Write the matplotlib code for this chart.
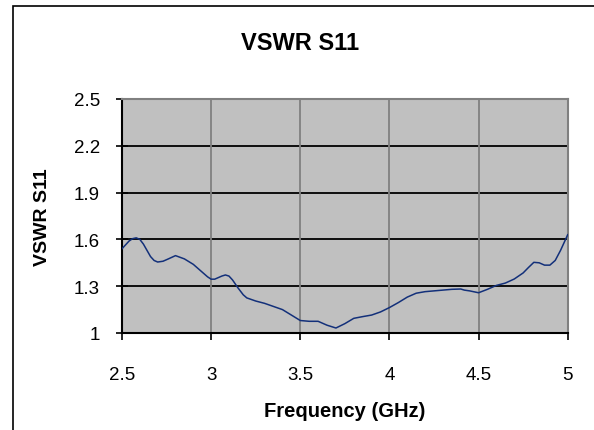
import matplotlib.pyplot as plt
from matplotlib.patches import Rectangle

plt.rcParams['font.family'] = ['Liberation Sans', 'DejaVu Sans']

freq = [2.50, 2.52, 2.54, 2.56, 2.58, 2.60, 2.62, 2.64, 2.66, 2.68, 2.70,
        2.73, 2.76, 2.80, 2.85, 2.90, 2.95, 2.98,
        3.00, 3.02, 3.04, 3.06, 3.08, 3.10, 3.12, 3.15, 3.18, 3.20, 3.25,
        3.30, 3.35, 3.40, 3.45,
        3.50, 3.55, 3.60, 3.65, 3.70, 3.75, 3.80, 3.85, 3.90, 3.95, 4.00,
        4.05, 4.10, 4.15, 4.20, 4.25, 4.30, 4.35, 4.40, 4.42, 4.45, 4.50,
        4.55, 4.60, 4.65, 4.70, 4.75, 4.78, 4.81, 4.84, 4.87, 4.90, 4.93,
        4.96, 5.00]
vswr = [1.54, 1.565, 1.59, 1.605, 1.61, 1.6, 1.57, 1.53, 1.49, 1.465, 1.455,
        1.46, 1.475, 1.496, 1.475, 1.44, 1.39, 1.36,
        1.345, 1.345, 1.355, 1.365, 1.372, 1.365, 1.34, 1.29, 1.245, 1.225, 1.205,
        1.19, 1.17, 1.15, 1.115,
        1.08, 1.075, 1.075, 1.05, 1.032, 1.06, 1.094, 1.105, 1.115, 1.135, 1.163,
        1.195, 1.23, 1.255, 1.265, 1.27, 1.275, 1.28, 1.282, 1.275, 1.27, 1.258,
        1.28, 1.305, 1.32, 1.346, 1.385, 1.42, 1.453, 1.45, 1.435, 1.435, 1.465,
        1.53, 1.63]

xticks = [2.5, 3, 3.5, 4, 4.5, 5]
xtick_labels = ['2.5', '3', '3.5', '4', '4.5', '5']
yticks = [1, 1.3, 1.6, 1.9, 2.2, 2.5]
ytick_labels = ['1', '1.3', '1.6', '1.9', '2.2', '2.5']

fig = plt.figure(figsize=(5.94, 4.31), dpi=100)
ax = fig.add_axes([122 / 594, 97 / 431, 445.7 / 594, 234 / 431])

# outer chart frame (right and bottom run off the picture)
fig.patches.append(Rectangle((12.5 / 594, -0.1), 1.0, (431 - 6.5) / 431 + 0.1,
                             transform=fig.transFigure, fill=False,
                             edgecolor='black', linewidth=1.2))

ax.set_facecolor('#c0c0c0')
ax.plot(freq, vswr, color='#13307a', linewidth=1.1, zorder=3)

ax.set_xlim(2.5, 5)
ax.set_ylim(1, 2.5)
ax.set_xticks(xticks)
ax.set_xticklabels(xtick_labels)
ax.set_yticks(yticks)
ax.set_yticklabels(ytick_labels)

for y in yticks[1:-1]:
    ax.axhline(y, color='black', linewidth=1.3, zorder=2)
for x in xticks[1:-1]:
    ax.axvline(x, color='#808080', linewidth=1.3, zorder=2)

ax.spines['left'].set_color('black')
ax.spines['bottom'].set_color('black')
ax.spines['left'].set_linewidth(1.5)
ax.spines['bottom'].set_linewidth(1.5)
ax.spines['top'].set_color('#808080')
ax.spines['right'].set_color('#808080')
ax.spines['top'].set_linewidth(1.5)
ax.spines['right'].set_linewidth(1.5)

ax.tick_params(axis='x', direction='out', length=5, width=1.2, pad=19, labelsize=13.5)
ax.tick_params(axis='y', direction='inout', length=8, width=1.2, pad=12, labelsize=13.5)

ax.set_xlabel('Frequency (GHz)', fontsize=14.5, fontweight='bold', labelpad=13)
ax.set_ylabel('VSWR S11', fontsize=14, fontweight='bold', labelpad=16)
fig.text(300 / 594, 1 - 44 / 431, 'VSWR S11', ha='center', va='center',
         fontsize=17, fontweight='bold')

plt.savefig('out.png', dpi=100)
